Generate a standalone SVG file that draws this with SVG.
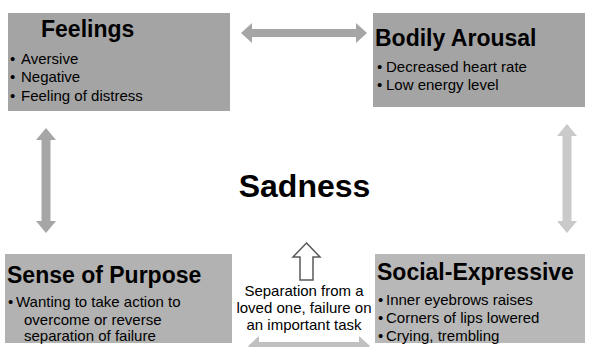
<svg xmlns="http://www.w3.org/2000/svg" width="590" height="347" viewBox="0 0 590 347">
<style>
.title{font-family:"Liberation Sans",Arial,sans-serif;font-weight:bold;font-size:23px;fill:#000}
.item{font-family:"Liberation Sans",Arial,sans-serif;font-size:15px;fill:#000}
.center{font-family:"Liberation Sans",Arial,sans-serif;font-size:15px;fill:#000;text-anchor:middle}
</style>
<rect width="590" height="347" fill="#fff"/>
<g id="connectors">
<path d="M241,33 L252,23 L252,29 L356,29 L356,23 L367,33 L356,43 L356,37 L252,37 L252,43 Z" fill="#a6a6a6"/>
<path d="M46,128 L56,140 L50.5,140 L50.5,221 L56,221 L46,233 L36,221 L41.5,221 L41.5,140 L36,140 Z" fill="#a6a6a6"/>
<path d="M567,124 L577,136 L571.5,136 L571.5,221 L577,221 L567,233 L557,221 L562.5,221 L562.5,136 L557,136 Z" fill="#cacaca"/>
<path d="M248,346 L259,336 L259,342 L359,342 L359,336 L370,346 L359,356 L359,350 L259,350 L259,356 Z" fill="#c0c0c0"/>
<path d="M306.5,243 L320,257 L313,257 L313,280 L300,280 L300,257 L293,257 Z" fill="#fff" stroke="#595959" stroke-width="1.5"/>
</g>
<g id="feelings">
<rect x="8" y="13" width="222" height="98" fill="#a4a4a4"/>
<text class="title" x="41" y="37">Feelings</text>
<text class="item" x="10" y="64">•</text><text class="item" x="21" y="64">Aversive</text>
<text class="item" x="10" y="82">•</text><text class="item" x="21" y="82">Negative</text>
<text class="item" x="10" y="101">•</text><text class="item" x="21" y="101">Feeling of distress</text>
</g>
<g id="bodily">
<rect x="373" y="13" width="212" height="94" fill="#a4a4a4"/>
<text class="title" x="375" y="46">Bodily Arousal</text>
<text class="item" x="377" y="72">•</text><text class="item" x="386" y="72">Decreased heart rate</text>
<text class="item" x="377" y="90">•</text><text class="item" x="386" y="90">Low energy level</text>
</g>
<g id="sadness">
<text x="304.5" y="197" font-family="Liberation Sans,Arial,sans-serif" font-weight="bold" font-size="32" text-anchor="middle">Sadness</text>
</g>
<g id="purpose">
<rect x="5" y="254" width="227" height="89" fill="#b2b2b2"/>
<text class="title" x="7" y="283">Sense of Purpose</text>
<text class="item" x="8" y="307">•</text><text class="item" x="16" y="307">Wanting to take action to</text>
<text class="item" x="24" y="325">overcome or reverse</text>
<text class="item" x="24" y="341">separation of failure</text>
</g>
<g id="social">
<rect x="375" y="254" width="210" height="89" fill="#b8b8b8"/>
<text class="title" x="377" y="280">Social-Expressive</text>
<text class="item" x="378" y="305">•</text><text class="item" x="386" y="305">Inner eyebrows raises</text>
<text class="item" x="378" y="323">•</text><text class="item" x="386" y="323">Corners of lips lowered</text>
<text class="item" x="378" y="341">•</text><text class="item" x="386" y="341">Crying, trembling</text>
</g>
<g id="cause">
<text class="center" x="304" y="296">Separation from a</text>
<text class="center" x="304" y="313">loved one, failure on</text>
<text class="center" x="304" y="330">an important task</text>
</g>
</svg>
